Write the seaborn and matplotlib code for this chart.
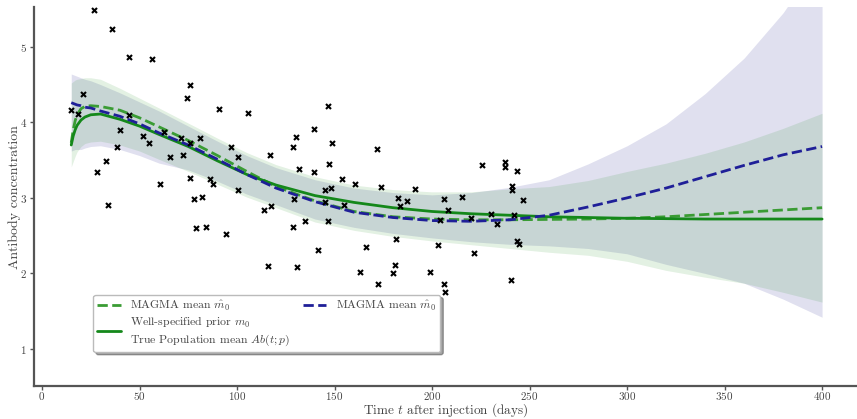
import numpy as np
import pandas as pd
import matplotlib
matplotlib.use("Agg")
import matplotlib.pyplot as plt
import seaborn as sns

# ---- observed antibody measurements (days after injection, concentration) ----
obs_t = [26.7, 36.1, 44.8, 56.6, 76.1, 74.5, 21.2, 15.0, 18.6, 44.8,
         90.9, 105.8, 40.0, 62.7, 51.6, 71.4, 80.9, 54.9, 76.1, 38.5,
         97.1, 130.1, 139.5, 128.6, 65.8, 72.2, 100.4, 116.8, 33.0, 28.4,
         76.1, 86.3, 87.8, 60.4, 100.4, 131.6, 139.5, 129.4, 82.2, 78.1,
         146.5, 148.9, 171.6, 147.3, 153.7, 160.7, 173.8, 191.1, 145.0, 148.1,
         145.1, 155.0, 182.6, 183.4, 187.3, 206.0, 215.4, 208.4, 225.5, 237.4,
         237.4, 243.6, 241.2, 241.2, 246.8, 230.3, 242.2, 220.2, 233.5, 128.6,
         134.7, 146.5, 181.7, 202.9, 221.7, 243.6, 244.5, 141.7, 166.2, 130.8,
         162.9, 181.0, 180.2, 199.0, 172.3, 206.0, 206.8, 240.5, 33.8, 113.7,
         117.6, 79.1, 83.9, 94.2, 116.1, 204.1]
obs_ab = [5.49, 5.24, 4.86, 4.84, 4.49, 4.32, 4.38, 4.16, 4.11, 4.10,
          4.18, 4.12, 3.90, 3.87, 3.82, 3.79, 3.79, 3.72, 3.72, 3.67,
          3.68, 3.81, 3.91, 3.67, 3.54, 3.57, 3.54, 3.57, 3.49, 3.34,
          3.26, 3.25, 3.19, 3.18, 3.10, 3.38, 3.34, 2.99, 3.01, 2.99,
          4.22, 3.73, 3.65, 3.45, 3.25, 3.18, 3.15, 3.12, 3.10, 3.13,
          2.94, 2.90, 3.00, 2.89, 2.96, 2.98, 3.01, 2.84, 3.43, 3.48,
          3.41, 3.35, 3.16, 3.11, 2.97, 2.79, 2.78, 2.73, 2.65, 2.62,
          2.70, 2.70, 2.45, 2.38, 2.27, 2.43, 2.39, 2.31, 2.35, 2.08,
          2.02, 2.11, 2.00, 2.02, 1.86, 1.86, 1.76, 1.91, 2.91, 2.84,
          2.89, 2.60, 2.62, 2.52, 2.10, 2.71]

# ---- prediction grid and curves ----
grid_t = [15, 16, 17, 18, 20, 22, 25, 30, 40, 50, 60, 75, 90, 105, 120,
          140, 160, 180, 200, 220, 240, 260, 280, 300, 320, 340, 360, 380, 400]

true_mean = [3.70, 3.82, 3.90, 3.96, 4.03, 4.07, 4.10, 4.11, 4.04, 3.95, 3.84,
             3.68, 3.49, 3.31, 3.17, 3.03, 2.94, 2.87, 2.82, 2.79, 2.77,
             2.75, 2.74, 2.73, 2.725, 2.72, 2.72, 2.72, 2.72]
magma_wellspec = [3.73, 3.90, 4.02, 4.10, 4.18, 4.21, 4.22, 4.21, 4.16, 4.06,
                  3.94, 3.76, 3.56, 3.35, 3.15, 2.96, 2.82, 2.75, 2.72, 2.71,
                  2.71, 2.715, 2.72, 2.73, 2.75, 2.78, 2.81, 2.84, 2.87]
magma_other = [4.26, 4.25, 4.24, 4.23, 4.22, 4.20, 4.19, 4.15, 4.08, 3.98,
               3.86, 3.70, 3.51, 3.31, 3.13, 2.95, 2.81, 2.74, 2.70, 2.69,
               2.71, 2.77, 2.88, 3.00, 3.13, 3.28, 3.43, 3.57, 3.68]

# credible bands
wellspec_lo = [3.41, 3.48, 3.55, 3.61, 3.68, 3.72, 3.74, 3.75, 3.70, 3.62,
               3.51, 3.35, 3.18, 3.01, 2.87, 2.68, 2.57, 2.49, 2.43, 2.38,
               2.33, 2.28, 2.24, 2.16, 2.04, 1.95, 1.87, 1.75, 1.62]
wellspec_hi = [4.52, 4.54, 4.56, 4.57, 4.58, 4.59, 4.59, 4.57, 4.45, 4.32,
               4.19, 3.99, 3.79, 3.60, 3.44, 3.28, 3.17, 3.11, 3.08, 3.08,
               3.12, 3.15, 3.23, 3.35, 3.46, 3.59, 3.74, 3.92, 4.12]
other_lo = [3.62, 3.63, 3.64, 3.64, 3.64, 3.66, 3.68, 3.69, 3.64, 3.56,
            3.46, 3.37, 3.22, 3.05, 2.91, 2.72, 2.61, 2.53, 2.47, 2.42,
            2.385, 2.365, 2.33, 2.26, 2.12, 2.00, 1.87, 1.66, 1.42]
other_hi = [4.64, 4.63, 4.62, 4.61, 4.59, 4.57, 4.55, 4.50, 4.39, 4.27,
            4.15, 3.95, 3.75, 3.56, 3.40, 3.24, 3.13, 3.07, 3.04, 3.07,
            3.14, 3.24, 3.45, 3.69, 3.98, 4.38, 4.85, 5.45, 6.20]

x_ticks = [0, 50, 100, 150, 200, 250, 300, 350, 400]
y_ticks = [1, 2, 3, 4, 5]

GREEN_D = "#3a9c34"
GREEN_S = "#14881a"
BLUE_D = "#1f1f98"

sns.set_theme(style="ticks")
plt.rcParams["font.family"] = ["cmr10", "DejaVu Serif"]
plt.rcParams["mathtext.fontset"] = "cm"
plt.rcParams["axes.formatter.use_mathtext"] = True

obs = pd.DataFrame({"t": obs_t, "ab": obs_ab})
curves = pd.DataFrame({"t": grid_t, "true": true_mean,
                       "ws": magma_wellspec, "ot": magma_other})

fig = plt.figure(figsize=(8.57, 4.19), dpi=100)
ax = fig.add_axes([34 / 857, 33 / 419, 823 / 857, 378.5 / 419])

ax.fill_between(grid_t, other_lo, other_hi, color="#000080", alpha=0.12,
                linewidth=0, zorder=1)
ax.fill_between(grid_t, wellspec_lo, wellspec_hi, color="#008000", alpha=0.11,
                linewidth=0, zorder=1)

sns.lineplot(data=curves, x="t", y="ws", ax=ax, color=GREEN_D, lw=2.0,
             linestyle="--", label=r"MAGMA mean $\hat{m}_0$", zorder=3)
sns.lineplot(data=curves, x="t", y="true", ax=ax, color=GREEN_S, lw=2.0,
             label="Well-specified prior $m_0$\nTrue Population mean $Ab(t;p)$",
             zorder=3)
sns.lineplot(data=curves, x="t", y="ot", ax=ax, color=BLUE_D, lw=2.0,
             linestyle="--", label=r"MAGMA mean $\hat{m}_0$", zorder=3)
sns.scatterplot(data=obs, x="t", y="ab", ax=ax, marker="x", s=13,
                color="black", linewidth=1.5, zorder=4, legend=False)

ax.set_xlim(-4.1, 417.9)
ax.set_ylim(0.51, 5.52)
ax.set_xticks(x_ticks)
ax.set_yticks(y_ticks)
ax.tick_params(axis="both", labelsize=8, labelcolor="#444444",
               color="#555555", length=3, width=1)
ax.tick_params(axis="x", pad=0)
ax.tick_params(axis="y", pad=2)
ax.set_xlabel(r"Time $t$ after injection (days)", fontsize=9.5,
              color="#444444", va="center")
ax.xaxis.set_label_coords(0.5, -(410 - 386) / 378.5)
ax.set_ylabel("Antibody concentration", fontsize=10, color="#444444")
ax.yaxis.set_label_coords(-0.016, 0.5)
for side in ("top", "right"):
    ax.spines[side].set_visible(False)
for side in ("left", "bottom"):
    ax.spines[side].set_color("#555555")
    ax.spines[side].set_linewidth(1.6)

handles, labels = ax.get_legend_handles_labels()
leg = ax.legend(handles, labels, ncol=2, loc="lower left",
                bbox_to_anchor=(0.072, 0.09), borderaxespad=0,
                fontsize=8.5, frameon=True, fancybox=True, shadow=True,
                columnspacing=1.0, handlelength=2.0, labelspacing=0.2,
                borderpad=0.35, labelcolor="#444444")
leg.get_frame().set_edgecolor("#bbbbbb")

fig.savefig("out.png", dpi=100)
